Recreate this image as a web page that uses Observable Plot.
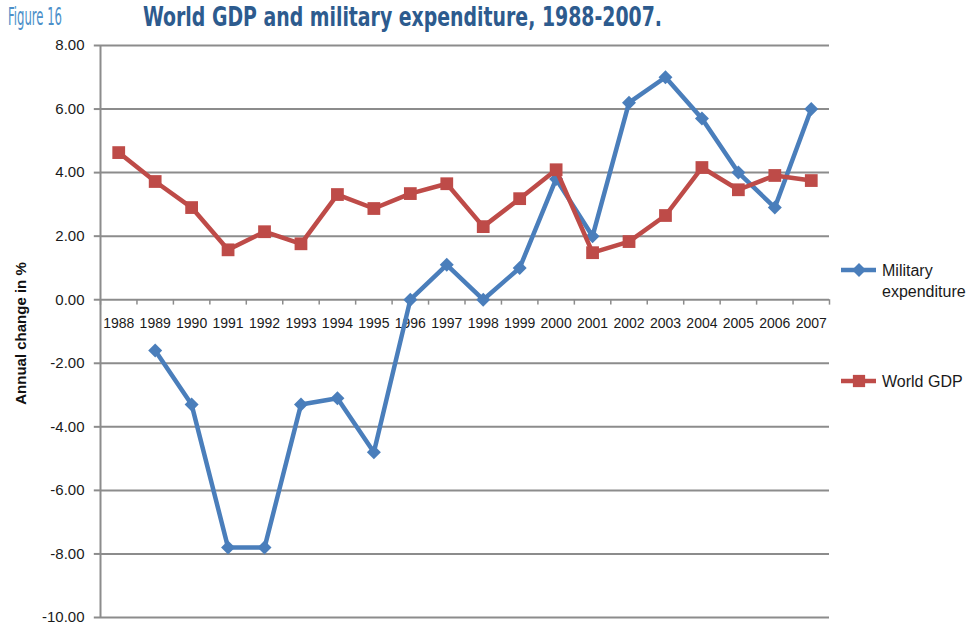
<!DOCTYPE html>
<html>
<head>
<meta charset="utf-8">
<script src="https://cdn.jsdelivr.net/npm/d3@7"></script>
<script src="https://cdn.jsdelivr.net/npm/@observablehq/plot@0.6"></script>
<style>
  body { margin: 0; background: #fff; font-family: "Liberation Sans", Arial, sans-serif; }
  #wrap { position: relative; width: 976px; height: 628px; overflow: hidden; }
  #header { height: 36px; display: block; }
  #legend { position: absolute; left: 0; top: 0; pointer-events: none; }
</style>
</head>
<body>
<div id="wrap">
  <svg id="header" width="976" height="36">
    <text x="8" y="25" font-family="'DejaVu Sans Condensed', 'Liberation Sans Narrow', sans-serif" font-weight="300" font-size="25" fill="#4b8fc9" textLength="54" lengthAdjust="spacingAndGlyphs">Figure 16</text>
    <text x="143" y="26" font-family="'DejaVu Sans Condensed', 'Liberation Sans Narrow', sans-serif" font-weight="bold" font-size="26" fill="#2d5b8e" textLength="519" lengthAdjust="spacingAndGlyphs">World GDP and military expenditure, 1988-2007.</text>
  </svg>
  <div id="chart"></div>
  <svg id="legend" width="976" height="628"></svg>
</div>
<script>
const years = [1988,1989,1990,1991,1992,1993,1994,1995,1996,1997,1998,1999,2000,2001,2002,2003,2004,2005,2006,2007];
const military = [null,-1.6,-3.3,-7.8,-7.8,-3.3,-3.1,-4.8,0.0,1.1,0.0,1.0,3.8,2.0,6.2,7.0,5.7,4.0,2.9,6.0];
const worldGDP = [4.63,3.72,2.90,1.57,2.14,1.76,3.31,2.87,3.34,3.65,2.30,3.18,4.09,1.48,1.83,2.65,4.16,3.46,3.91,3.75];
const yTicks = [-10,-8,-6,-4,-2,0,2,4,6,8];
const seriesNames = ["Military expenditure", "World GDP"];
const colors = ["#4a7ebb", "#be4b48"];

const milData = years.map((y, i) => ({year: y, value: military[i]})).filter(d => d.value != null);
const gdpData = years.map((y, i) => ({year: y, value: worldGDP[i]}));
const bounds = d3.range(years.length + 1).map(i => years[0] - 0.5 + i);
const x0 = bounds[0];

const chart = Plot.plot({
  width: 976,
  height: 592,
  marginLeft: 100,
  marginRight: 147,
  marginTop: 9,
  marginBottom: 11,
  style: {fontFamily: "'Liberation Sans', Arial, sans-serif", background: "#fff", overflow: "visible"},
  x: {type: "linear", domain: [years[0] - 0.5, years[years.length - 1] + 0.5], axis: null},
  y: {domain: [-10, 8], axis: null},
  marks: [
    Plot.ruleY(yTicks, {y: d => d, x1: x0, x2: bounds[bounds.length - 1], stroke: "#8c8c8c", strokeWidth: 2}),
    Plot.ruleY(yTicks, {y: d => d, x1: x0 - 0.17, x2: x0, stroke: "#8c8c8c", strokeWidth: 2}),
    Plot.ruleX([x0], {y1: -10, y2: 8, stroke: "#8c8c8c", strokeWidth: 2}),
    Plot.ruleX(bounds, {x: d => d, y1: 0, y2: -0.17, stroke: "#8c8c8c", strokeWidth: 1.5}),
    Plot.text(yTicks, {x: x0, y: d => d, dx: -16, text: d => d.toFixed(2), textAnchor: "end", fontSize: 15, fill: "#1a1a1a"}),
    Plot.text(years, {x: d => d, y: 0, dy: 24, text: d => String(d), fontSize: 14, fill: "#1a1a1a"}),
    Plot.text(["Annual change in %"], {frameAnchor: "left", dx: -79, dy: 2, rotate: -90, textAnchor: "middle", fontWeight: "bold", fontSize: 15, fill: "#111"}),
    Plot.line(milData, {x: "year", y: "value", stroke: colors[0], strokeWidth: 4.5}),
    Plot.dot(milData, {x: "year", y: "value", symbol: "diamond2", r: 6.3, fill: colors[0], stroke: null}),
    Plot.line(gdpData, {x: "year", y: "value", stroke: colors[1], strokeWidth: 4.5}),
    Plot.dot(gdpData, {x: "year", y: "value", symbol: "square", r: 7.2, fill: colors[1], stroke: null})
  ]
});
document.getElementById("chart").appendChild(chart);

// Legend
const lg = d3.select("#legend");
const items = [
  {name: seriesNames[0], lines: ["Military", "expenditure"], color: colors[0], y: 270, sym: d3.symbolDiamond2},
  {name: seriesNames[1], lines: ["World GDP"], color: colors[1], y: 381, sym: d3.symbolSquare}
];
items.forEach(it => {
  lg.append("line").attr("x1", 841).attr("x2", 876).attr("y1", it.y).attr("y2", it.y)
    .attr("stroke", it.color).attr("stroke-width", 4.5);
  lg.append("path").attr("d", d3.symbol(it.sym, it.sym === d3.symbolSquare ? 150 : 125)())
    .attr("transform", `translate(859,${it.y})`).attr("fill", it.color);
  it.lines.forEach((t, j) => {
    lg.append("text").attr("x", 882).attr("y", it.y + j * 21 + 6)
      .attr("font-size", 16).attr("fill", "#1a1a1a")
      .attr("font-family", "'Liberation Sans', Arial, sans-serif").text(t);
  });
});
</script>
</body>
</html>
